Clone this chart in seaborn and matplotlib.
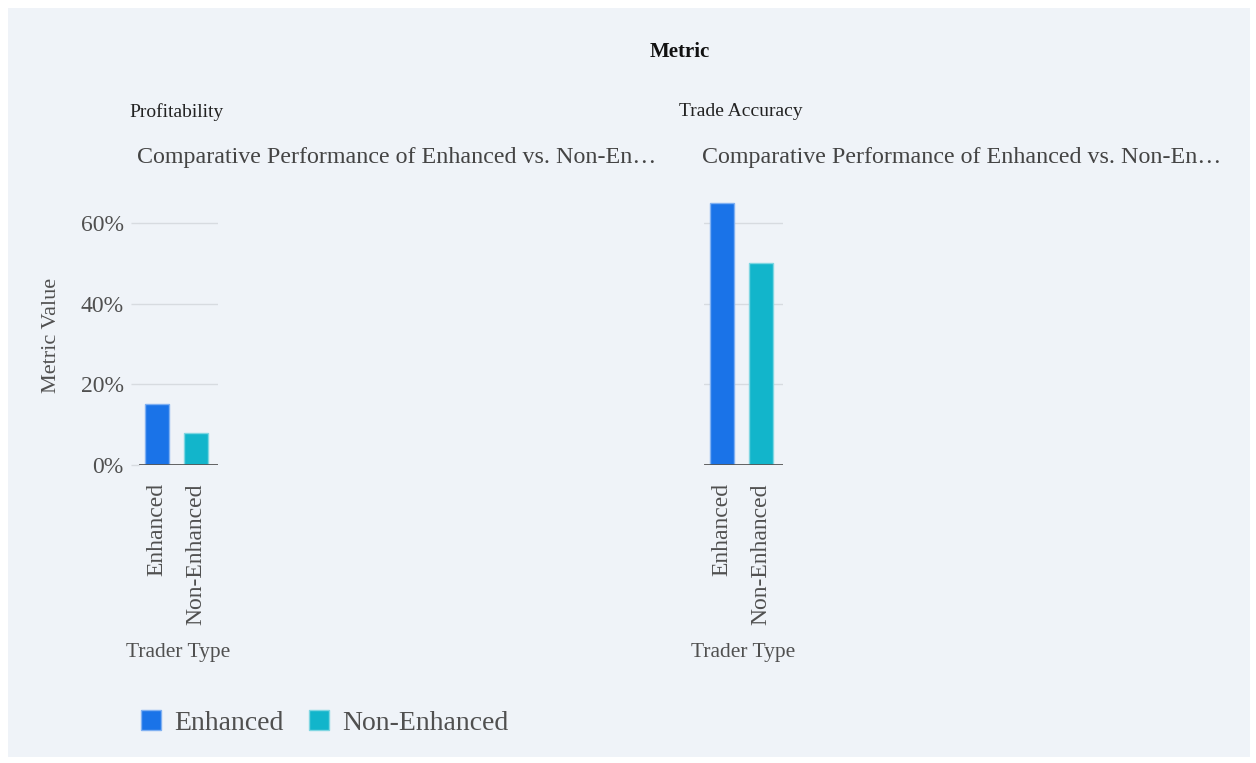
import matplotlib
matplotlib.use("Agg")
import matplotlib.pyplot as plt
from matplotlib.patches import Rectangle, Patch
import seaborn as sns
import pandas as pd

# ---- data ----
metrics = ["Profitability", "Trade Accuracy"]
trader_types = ["Enhanced", "Non-Enhanced"]
profitability = [15, 8]
trade_accuracy = [65, 50]
y_ticks = [0, 20, 40, 60]
y_tick_labels = ["0%", "20%", "40%", "60%"]
subtitle = "Comparative Performance of Enhanced vs. Non-En\u2026"

colors = {"Enhanced": "#1a73e8", "Non-Enhanced": "#12b5cb"}
edges = {"Enhanced": "#7fb0f2", "Non-Enhanced": "#7fd6e2"}

rows = []
for m, vals in zip(metrics, [profitability, trade_accuracy]):
    for t, v in zip(trader_types, vals):
        rows.append({"Metric": m, "Trader Type": t, "Metric Value": v})
df = pd.DataFrame(rows)

sns.set_theme(style="white")
plt.rcParams["font.family"] = ["Liberation Serif", "DejaVu Serif"]

W, H = 1256, 763
BG = "#eff3f8"
fig = plt.figure(figsize=(W / 100, H / 100), dpi=100, facecolor="white")
fig.patches.append(Rectangle((8 / W, 1 - 757 / H), (1250 - 8) / W, (757 - 8) / H,
                             transform=fig.transFigure, facecolor=BG, edgecolor="none", zorder=-10))

def fx(px):
    return px / W

def fy(py):
    return 1 - py / H

GRAY = "#505050"
ax_left_px = [139, 704]
ax_w = 79
y_bottom = 465
y_top = 189
ymax = 68.4

for i, m in enumerate(metrics):
    ax = fig.add_axes([fx(ax_left_px[i]), fy(y_bottom), ax_w / W, (y_bottom - y_top) / H])
    ax.set_facecolor("none")
    sub = df[df["Metric"] == m]
    sns.barplot(data=sub, x="Trader Type", y="Metric Value", hue="Trader Type",
                order=trader_types, hue_order=trader_types, palette=colors, saturation=1,
                width=0.6, dodge=False, legend=False, ax=ax, linewidth=1)
    for patch, t in zip(ax.patches, trader_types):
        patch.set_edgecolor(edges[t])
    ax.set_xlim(-0.45, 1.55)
    ax.set_ylim(0, ymax)
    ax.set_yticks(y_ticks)
    ax.yaxis.grid(True, color="#d7dbe0", linewidth=1)
    ax.set_axisbelow(True)
    ax.axhline(0, color="#555555", linewidth=2, zorder=5)
    for s in ax.spines.values():
        s.set_visible(False)
    if i == 0:
        ax.set_yticklabels(y_tick_labels, fontsize=17, color=GRAY)
        ax.tick_params(axis="y", length=6, width=1, color="#d7dbe0", pad=5, left=True)
    else:
        ax.set_yticklabels([])
        ax.tick_params(axis="y", length=0, left=False)
    ax.set_xticks(range(len(trader_types)))
    ax.set_xticklabels(trader_types, rotation=90, fontsize=17, color=GRAY, va="top")
    ax.tick_params(axis="x", length=0, pad=13)
    ax.set_xlabel("")
    ax.set_ylabel("")
    # facet labels
    fig.text(fx([129, 679][i]), fy(112), m, fontsize=14, color="#222222", ha="left", va="center")
    fig.text(fx([137, 702][i]), fy(157), subtitle, fontsize=17.3, color="#444444", ha="left", va="center")
    fig.text(fx([178, 743][i]), fy(652), "Trader Type", fontsize=15.5, color=GRAY, ha="center", va="center")

fig.text(fx(680), fy(52), "Metric", fontsize=15, fontweight="bold", color="#111111", ha="center", va="center")
fig.text(fx(52), fy(335), "Metric Value", fontsize=16, color=GRAY, rotation=90, ha="center", va="center")

handles = [Patch(facecolor=colors[t], edgecolor=edges[t], linewidth=1, label=t) for t in trader_types]
leg = fig.legend(handles=handles, loc="center left", bbox_to_anchor=(fx(119), fy(723)), ncol=2,
                 frameon=False, fontsize=20, handlelength=0.72, handleheight=0.72,
                 handletextpad=0.45, columnspacing=0.95, borderpad=0.3)
for txt in leg.get_texts():
    txt.set_color(GRAY)

fig.savefig("out.png", dpi=100, facecolor="white")
